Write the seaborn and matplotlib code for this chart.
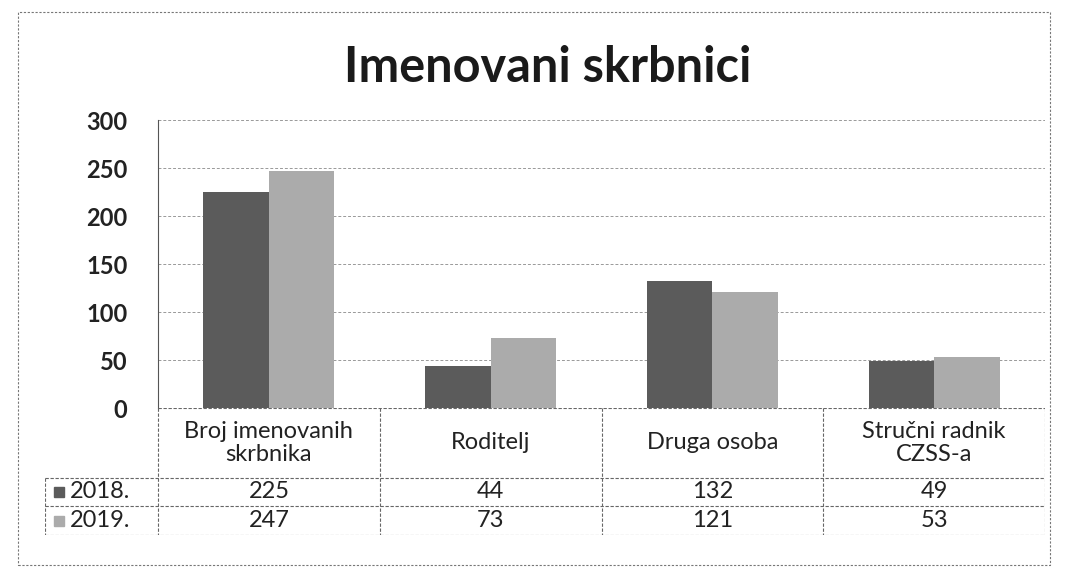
import matplotlib
matplotlib.use("Agg")
import matplotlib.pyplot as plt
import numpy as np
import pandas as pd
import seaborn as sns
from matplotlib.patches import Rectangle

categories = ["Broj imenovanih\nskrbnika", "Roditelj", "Druga osoba", "Stručni radnik\nCZSS-a"]
years = ["2018.", "2019."]
values_2018 = [225, 44, 132, 49]
values_2019 = [247, 73, 121, 53]
y_ticks = [0, 50, 100, 150, 200, 250, 300]

colors = ["#5b5b5b", "#ababab"]

df = pd.DataFrame({
    "kategorija": categories * 2,
    "godina": [years[0]] * 4 + [years[1]] * 4,
    "broj": values_2018 + values_2019,
})

sns.set_style("white")
plt.rcParams["font.family"] = ["Lato", "DejaVu Sans"]

W, H = 1065, 577
fig = plt.figure(figsize=(W / 100, H / 100), dpi=100)

# chart area (pixels measured from top-left)
px_left, px_right, px_top, px_zero = 158, 1045, 120, 408
ax = fig.add_axes([px_left / W, 1 - px_zero / H, (px_right - px_left) / W, (px_zero - px_top) / H])
sns.barplot(data=df, x="kategorija", y="broj", hue="godina", palette=colors,
            width=0.59, ax=ax, legend=False, saturation=1, linewidth=0)
ax.set_ylim(0, 300)
ax.set_xlim(-0.5, 3.5)
ax.set_yticks(y_ticks)
ax.set_yticklabels([str(t) for t in y_ticks], fontsize=17, fontweight="bold", color="#222222")
ax.tick_params(axis="y", length=0, pad=22)
ax.set_xticks([])
ax.set_xlabel("")
ax.set_ylabel("")
for t in y_ticks[1:]:
    ax.axhline(t, color="#999999", lw=0.7, ls=(0, (3, 2)), zorder=0)
for s in ["top", "right", "bottom"]:
    ax.spines[s].set_visible(False)
ax.spines["left"].set_color("#555555")
ax.spines["left"].set_linewidth(0.8)

# data table below the chart
unit = (px_right - px_left) / 4
tab_left, tab_bottom = 45, 535
tax = fig.add_axes([tab_left / W, 1 - tab_bottom / H, (px_right - tab_left) / W, (tab_bottom - px_zero) / H])
x0 = -0.5 - (px_left - tab_left) / unit
tax.set_xlim(x0, 3.5)
tax.set_ylim(tab_bottom - px_zero, 0)
tax.axis("off")
row_y = [0, 70, 98, tab_bottom - px_zero]
lc = "#666666"
kw = dict(color=lc, lw=0.8, ls=(0, (3, 1.5)))
tax.plot([-0.5, 3.5], [row_y[0]] * 2, **kw)
for yy in row_y[1:]:
    tax.plot([x0, 3.5], [yy] * 2, **kw)
for xx in [-0.5, 0.5, 1.5, 2.5, 3.5]:
    tax.plot([xx, xx], [row_y[0], row_y[3]], **kw)
tax.plot([x0, x0], [row_y[1], row_y[3]], **kw)

for i, cat in enumerate(categories):
    tax.text(i, (row_y[0] + row_y[1]) / 2, cat, ha="center", va="center",
             fontsize=17, color="#222222", linespacing=1.15)
for r, (yr, vals, c) in enumerate(zip(years, [values_2018, values_2019], colors)):
    yc = (row_y[r + 1] + row_y[r + 2]) / 2
    for i, v in enumerate(vals):
        tax.text(i, yc, str(v), ha="center", va="center", fontsize=17, color="#222222")
    tax.add_patch(Rectangle((x0 + 0.04, yc - 5), 0.045, 10, color=c, clip_on=False))
    tax.text(x0 + 0.11, yc, yr, ha="left", va="center", fontsize=17, color="#222222")

fig.text(548 / W, 1 - 68 / H, "Imenovani skrbnici", ha="center", va="center",
         fontsize=35, fontweight="bold", color="#1a1a1a")

fig.patches.append(Rectangle((18 / W, 1 - 565 / H), (1050 - 18) / W, (565 - 12) / H,
                             transform=fig.transFigure, fill=False, ec="#777777", lw=0.8,
                             ls=(0, (2, 1.5))))

fig.savefig("out.png", dpi=100, facecolor="white")
